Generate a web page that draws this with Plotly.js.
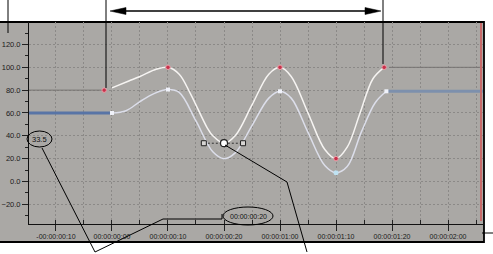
<!DOCTYPE html>
<html><head><meta charset="utf-8">
<script src="https://cdn.plot.ly/plotly-3.0.1.min.js"></script>
<style>html,body{margin:0;padding:0;background:#fff}#c{width:493px;height:254px}</style>
</head><body><div id="c"></div>
<script>
// ---- data (frames at 30 fps, values) ----
const tickFrames = [-10, 0, 10, 20, 30, 40, 50, 60];
const tickLabels = ["-00:00:00:10","00:00:00:00","00:00:00:10","00:00:00:20","00:00:01:00","00:00:01:10","00:00:01:20","00:00:02:00"];

const redKeyFrames = [-1.4, 10, 30, 40, 48.6];
const redKeyValues = [80, 100, 100, 20, 100];
const redCurveFrames = [0, 3, 5, 8, 10, 12, 14, 17, 18, 20, 22, 25, 28, 30, 32, 35, 38, 40, 42, 44.3, 46.6, 48.6];
const redCurveValues = [82, 88, 92, 98.5, 100, 94, 77, 47, 40, 33.5, 40, 67, 94, 100, 92, 60, 28, 20, 30, 60, 90, 100];
const redPreFrames = [-16, -1.4];
const redPreValues = [80, 80];
const redPostFrames = [49.5, 70];
const redPostValues = [100, 100];

const blueKeyFrames = [0, 10, 30, 49];
const blueKeyValues = [60, 80.5, 79, 79];
const blueTroughFrames = [40];
const blueTroughValues = [7.7];
const blueCurveFrames = [0, 2.5, 5, 7.5, 10, 12, 15, 18, 20, 22, 25, 28, 30, 32, 35, 38, 40, 42, 44.5, 47, 49];
const blueCurveValues = [60, 62, 70, 77, 80.5, 78, 53, 26, 20, 25, 49, 73, 79, 73, 43, 14, 7.7, 13, 43, 69, 79];
const bluePreFrames = [-16, 0];
const bluePreValues = [60, 60];
const bluePostFrames = [49.3, 70];
const bluePostValues = [79, 79];

const selKeyFrames = [20];
const selKeyValues = [33.5];
const handleFrames = [16.4, 23.4];
const handleValues = [33.5, 33.5];

const selectedValueText = "33.5";
const selectedTimeText = "00:00:00:20";

// ---- helpers for pixel-placed callouts ----
const W = 493, H = 254;
const px = x => x / W;
const py = y => 1 - y / H;
const FONT = "Liberation Sans, Arial, sans-serif";

const traces = [
  {x: redPreFrames, y: redPreValues, mode: "lines", line: {color: "#767472", width: 1}},
  {x: redPostFrames, y: redPostValues, mode: "lines", line: {color: "#767472", width: 1}},
  {x: bluePreFrames, y: bluePreValues, mode: "lines", line: {color: "#5874a6", width: 3}},
  {x: bluePostFrames, y: bluePostValues, mode: "lines", line: {color: "#7d90ad", width: 3}},
  {x: blueCurveFrames, y: blueCurveValues, mode: "lines", line: {color: "#dcdeea", width: 1.5, shape: "spline", smoothing: 1}},
  {x: redCurveFrames, y: redCurveValues, mode: "lines", line: {color: "#f6f4f2", width: 1.5, shape: "spline", smoothing: 1}},
  {x: blueKeyFrames, y: blueKeyValues, mode: "markers", marker: {symbol: "square", size: 4, color: "#f0f2fa"}},
  {x: blueTroughFrames, y: blueTroughValues, mode: "markers", marker: {symbol: "circle", size: 5, color: "#bfe2f2"}},
  {x: redKeyFrames, y: redKeyValues, mode: "markers", marker: {symbol: "circle", size: 4.5, color: "#c8304a", line: {color: "#e8a2aa", width: 1}}},
  {x: handleFrames, y: handleValues, mode: "lines+markers", line: {color: "#333", width: 1, dash: "2px,2px"},
    marker: {symbol: "square", size: 5, color: "#d8d6d4", line: {color: "#222", width: 1}}},
  {x: selKeyFrames, y: selKeyValues, mode: "markers", marker: {symbol: "circle", size: 7, color: "#ffffff", line: {color: "#222", width: 1.2}}}
];

const shapes = [
  {type: "rect", xref: "paper", yref: "paper", layer: "below", x0: px(-3), x1: px(484), y0: py(242), y1: py(22),
    fillcolor: "#aaa8a5", line: {color: "#000", width: 1.8}},
  {type: "line", xref: "paper", yref: "paper", x0: px(481), x1: px(481), y0: py(23), y1: py(221), line: {color: "#c86a6a", width: 2}},
  {type: "line", xref: "paper", yref: "paper", x0: px(8), x1: px(8), y0: py(0), y1: py(33), line: {color: "#000", width: 1}},
  {type: "line", xref: "paper", yref: "paper", x0: px(106), x1: px(106), y0: py(0), y1: py(88), line: {color: "#000", width: 1}},
  {type: "line", xref: "paper", yref: "paper", x0: px(383), x1: px(383), y0: py(0), y1: py(64), line: {color: "#000", width: 1}},
  {type: "line", xref: "paper", yref: "paper", x0: px(120), x1: px(370), y0: py(11), y1: py(11), line: {color: "#000", width: 1.5}},
  {type: "path", xref: "paper", yref: "paper", fillcolor: "#000", line: {color: "#000", width: 0.5},
    path: `M ${px(110)},${py(11)} L ${px(126)},${py(7.5)} L ${px(126)},${py(14.5)} Z`},
  {type: "path", xref: "paper", yref: "paper", fillcolor: "#000", line: {color: "#000", width: 0.5},
    path: `M ${px(381)},${py(11)} L ${px(365)},${py(7.5)} L ${px(365)},${py(14.5)} Z`},
  {type: "circle", xref: "paper", yref: "paper", x0: px(27), x1: px(52), y0: py(147), y1: py(131), line: {color: "#000", width: 1}},
  {type: "circle", xref: "paper", yref: "paper", x0: px(223), x1: px(273), y0: py(225), y1: py(207), line: {color: "#000", width: 1}},
  {type: "path", xref: "paper", yref: "paper", line: {color: "#000", width: 1},
    path: `M ${px(42)},${py(148)} L ${px(95)},${py(252)} L ${px(163)},${py(219)} L ${px(222)},${py(219)} L ${px(222)},${py(214)}`},
  {type: "path", xref: "paper", yref: "paper", line: {color: "#000", width: 1},
    path: `M ${px(225)},${py(145)} L ${px(287)},${py(182)} L ${px(307)},${py(252)}`},
  {type: "line", xref: "paper", yref: "paper", x0: px(482), x1: px(493), y0: py(233), y1: py(233), line: {color: "#000", width: 1}}
];

const annotations = [
  {xref: "paper", yref: "paper", x: px(39.5), y: py(139), text: selectedValueText, showarrow: false,
    font: {family: FONT, size: 7.5, color: "#111"}, xanchor: "center", yanchor: "middle"},
  {xref: "paper", yref: "paper", x: px(248), y: py(216), text: selectedTimeText, showarrow: false,
    font: {family: FONT, size: 7, color: "#111"}, xanchor: "center", yanchor: "middle"}
];

const gridCol = "#8b8987";
const layout = {
  width: W, height: H, margin: {l: 0, r: 0, t: 0, b: 0},
  paper_bgcolor: "#ffffff", plot_bgcolor: "rgba(0,0,0,0)", showlegend: false,
  xaxis: {
    domain: [px(29), px(483)], range: [-14.82, 66.25],
    tickmode: "array", tickvals: tickFrames, ticktext: tickLabels,
    ticks: "outside", ticklen: 6, tickcolor: "#222", tickwidth: 1,
    showline: true, linecolor: "#111", linewidth: 1, zeroline: false,
    showgrid: true, gridcolor: gridCol, griddash: "2px,2px", gridwidth: 1,
    tickfont: {family: FONT, size: 7, color: "#1a1a1a"},
    minor: {dtick: 5, tick0: 0, ticks: "inside", ticklen: 4, tickcolor: "#222", showgrid: true, gridcolor: gridCol, griddash: "2px,2px"}
  },
  yaxis: {
    domain: [py(224), py(22)], range: [-37.27, 139.7],
    tickmode: "linear", tick0: 0, dtick: 20, tickformat: ".1f",
    ticks: "outside", ticklen: 6, tickcolor: "#222", tickwidth: 1,
    showline: true, linecolor: "#111", linewidth: 1, zeroline: false,
    showgrid: true, gridcolor: gridCol, griddash: "2px,2px", gridwidth: 1,
    tickfont: {family: FONT, size: 7.5, color: "#1a1a1a"},
    minor: {dtick: 10, tick0: 0, ticks: "outside", ticklen: 3, tickcolor: "#222", showgrid: false}
  },
  shapes: shapes, annotations: annotations
};

Plotly.newPlot("c", traces, layout, {staticPlot: true, displayModeBar: false});
</script></body></html>
